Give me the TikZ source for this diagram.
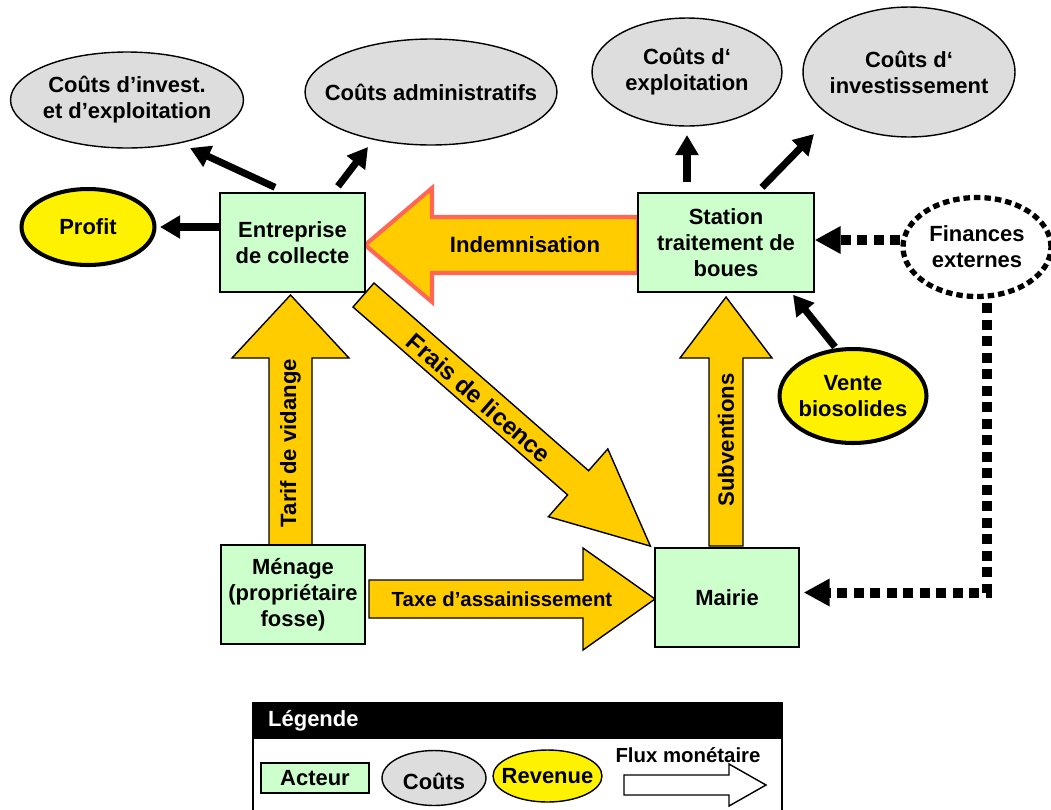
\documentclass[tikz,border=0pt]{standalone}
\usepackage{fontspec}
\setmainfont{Liberation Sans}
\usetikzlibrary{arrows.meta,shapes.geometric}
\definecolor{actorgreen}{HTML}{CCFFCC}
\definecolor{costgray}{HTML}{DDDDDD}
\definecolor{fluxorange}{HTML}{FFCC00}
\definecolor{indemred}{HTML}{FF6655}
\tikzset{
  txt/.style={font=\bfseries\fontsize{12.5}{14.8}\selectfont, align=center},
  actor/.style={txt, draw, fill=actorgreen, line width=0.8pt, minimum width=2.9cm, minimum height=1.98cm},
  cost/.style={ellipse, draw, fill=costgray, line width=0.8pt, inner sep=0pt},
  revenue/.style={ellipse, draw, fill=yellow, line width=2.3pt, inner sep=0pt},
  costarrow/.style={line width=4pt, -{Triangle[length=0.4cm,width=0.44cm]}},
  dotarrow/.style={line width=0.2cm, dash pattern=on 0.2cm off 0.13cm, -{Triangle[length=0.52cm,width=0.52cm]}},
  flux/.style={fill=fluxorange, draw=black, line width=0.8pt, line join=miter},
  fluxlabel/.style={font=\bfseries\fontsize{12.6}{14}\selectfont}
}
\begin{document}
\begin{tikzpicture}[x=0.02cm,y=-0.02cm]
\useasboundingbox (0,0) rectangle (1051,809);
% block arrows (money flows)
\filldraw[flux, draw=indemred, line width=2.3pt] (638,217) -- (432,217) -- (432,188) -- (365,245) -- (432,302) -- (432,273) -- (638,273) -- cycle; % indemnisation
\filldraw[flux] (269,545) -- (269,358) -- (232,358) -- (290.5,295) -- (349,358) -- (312,358) -- (312,545) -- cycle; % tarif
\filldraw[flux] (709,546) -- (709,358) -- (680,358) -- (726,297) -- (772,358) -- (743,358) -- (743,546) -- cycle; % subventions
\filldraw[flux] (369,580) -- (583,580) -- (583,548) -- (655,599) -- (583,650) -- (583,618) -- (369,618) -- cycle; % taxe
\filldraw[flux] (353,307) -- (374,283) -- (588.6,470.7) -- (607.8,448.9) -- (650.4,546.1) -- (548.4,516.7) -- (567.6,494.9) -- cycle; % frais
\node[fluxlabel] (indem) at (525,245) {Indemnisation};
\node[fluxlabel, rotate=90] (tarif) at (290.5,443) {Tarif de vidange};
\node[fluxlabel, rotate=90] (subv) at (726,440) {Subventions};
\node[fluxlabel, font=\bfseries\fontsize{11.6}{14}\selectfont] (taxe) at (502,599) {Taxe d’assainissement};
\node[fluxlabel, font=\bfseries\fontsize{13.8}{16}\selectfont, rotate=-41.2] (frais) at (479,398) {Frais de licence};
% actors
\node[actor] (ent) at (292.5,242.5) {Entreprise\\de collecte};
\node[actor, minimum width=3.52cm] (sta) at (726,242.5) {Station\\traitement de\\boues};
\node[actor, minimum width=2.88cm] (men) at (293,594.5) {Ménage\\(propriétaire\\fosse)};
\node[actor, minimum width=2.88cm] (mai) at (727,597.5) {Mairie};
% costs
\node[cost, minimum width=4.66cm, minimum height=1.92cm] (invexp) at (127,100) {};
\node[txt] (invexptext) at (invexp) {Coûts d’invest.\\et d’exploitation};
\node[cost, minimum width=5.04cm, minimum height=2.12cm] (admin) at (431,92) {};
\node[txt] (admintext) at (admin) {Coûts administratifs};
\node[cost, minimum width=3.8cm, minimum height=2.16cm] (exploit) at (687,72) {};
\node[txt] (exploittext) at (exploit) {Coûts d‘\\exploitation};
\node[cost, minimum width=4.24cm, minimum height=2.6cm] (invest) at (909,72) {};
\node[txt] (investtext) at (invest) {Coûts d‘\\investissement};
% revenues
\node[revenue, minimum width=2.66cm, minimum height=1.52cm] (profit) at (88,227) {};
\node[txt] (profittext) at (profit) {Profit};
\node[revenue, minimum width=2.94cm, minimum height=1.88cm] (vente) at (853,396) {};
\node[txt] (ventetext) at (vente) {Vente\\biosolides};
\node[ellipse, draw, line width=3pt, dash pattern=on 0.13cm off 0.08cm, minimum width=2.96cm, minimum height=1.98cm, inner sep=0pt] (fin) at (977,247) {};
\node[txt] (fintext) at (fin) {Finances\\externes};
% cost arrows
\draw[costarrow, shorten >=2pt] (profit.east -| ent.west) -- (profit.east);
\draw[costarrow] ([shift={(-17.5,-5)}]ent.north) -- ([shift={(63,48)}]invexp.center);
\draw[costarrow] ([shift={(45.5,-6)}]ent.north) -- ([shift={(-63,55)}]admin.center);
\draw[costarrow] ([shift={(-39,-10)}]sta.north) -- ([shift={(0,63)}]exploit.center);
\draw[costarrow] ([shift={(36,-5)}]sta.north) -- ([shift={(-95,62)}]invest.center);
\draw[costarrow] ([shift={(-18,0)}]vente.north) -- ([shift={(67,2)}]sta.south);
% external finances
\draw[dotarrow] ([shift={(0,-7)}]fin.west) -- ([shift={(0,-7)}]fin.west -| sta.east);
\draw[dotarrow] ([shift={(10,4)}]fin.south) |- ([shift={(4,-5)}]mai.east);
% legend
\fill[black] (253,703) rectangle (782,739);
\draw[line width=1.2pt] (253,812) -- (253,703) -- (782,703) -- (782,812);
\node[txt, text=white, anchor=west] (leg) at (262,721) {Légende};
\node[actor, minimum width=2.16cm, minimum height=0.6cm] (legact) at (315,778) {Acteur};
\node[cost, minimum width=2.08cm, minimum height=1.1cm] (legcost) at (434,778) {};
\node[txt] (legcosttext) at ([yshift=-0.06cm]legcost) {Coûts};
\node[revenue, line width=0.8pt, minimum width=2.18cm, minimum height=1.04cm] (legrev) at (547.5,776) {};
\node[txt] (legrevtext) at (legrev) {Revenue};
\node[fluxlabel, font=\bfseries\fontsize{11.6}{14}\selectfont] (legflux) at (688,755) {Flux monétaire};
\filldraw[fill=white, line width=0.8pt] (624,775) -- (729,775) -- (729,764) -- (766,785) -- (729,806) -- (729,795) -- (624,795) -- cycle;
\end{tikzpicture}
\end{document}
